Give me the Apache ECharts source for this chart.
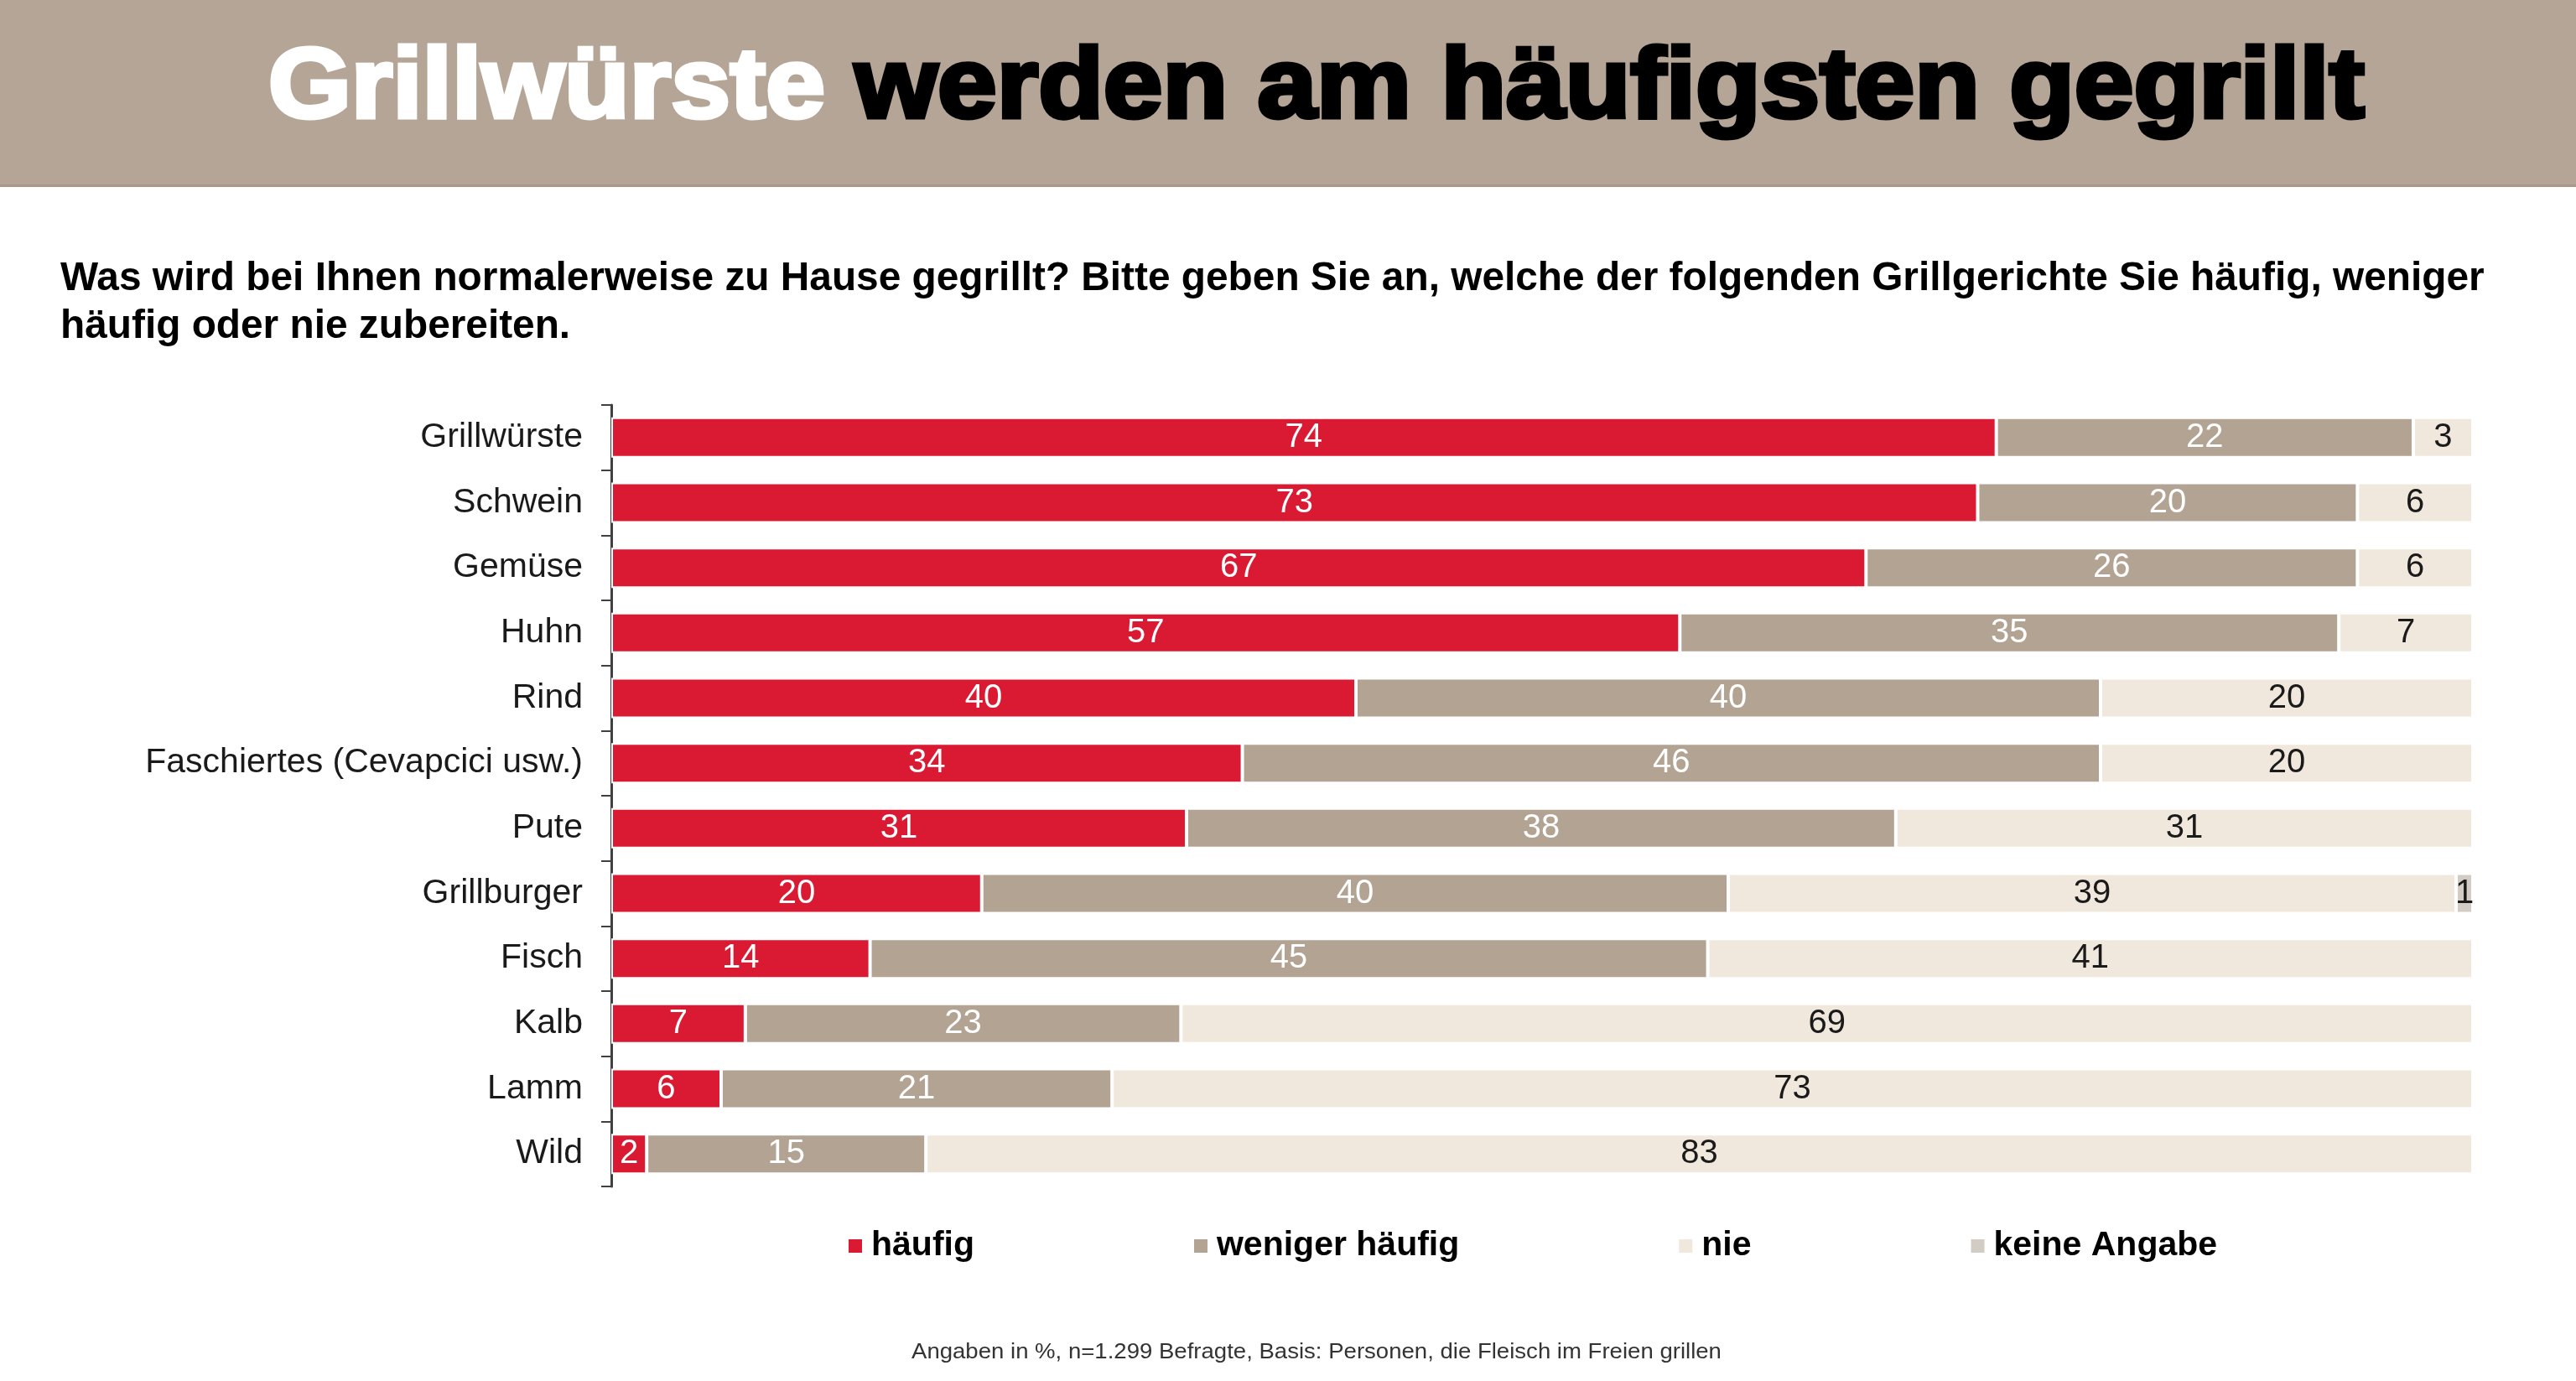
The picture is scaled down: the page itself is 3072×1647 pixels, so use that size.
<!DOCTYPE html>
<html>
<head>
<meta charset="utf-8">
<script src="https://cdn.jsdelivr.net/npm/echarts@6/dist/echarts.min.js"></script>
<style>
html,body{margin:0;padding:0;background:#fff;}
#chart{width:3072px;height:1647px;}
</style>
</head>
<body>
<div id="chart"></div>
<script>
// ---- data ----
const categories = ['Grillwürste','Schwein','Gemüse','Huhn','Rind','Faschiertes (Cevapcici usw.)','Pute','Grillburger','Fisch','Kalb','Lamm','Wild'];
const seriesNames = ['häufig','weniger häufig','nie','keine Angabe'];
const haeufig        = [74.4, 73.4, 67.4, 57.4, 40.0, 33.9, 30.9, 19.9, 13.9, 7.2, 5.9, 1.9];
const wenigerHaeufig = [22.4, 20.4, 26.4, 35.4, 40.0, 46.1, 38.1, 40.1, 45.0, 23.4, 21.0, 15.0];
const nie            = [3.2, 6.2, 6.2, 7.2, 20.0, 20.0, 31.0, 39.1, 41.1, 69.4, 73.1, 83.1];
const keineAngabe    = [null, null, null, null, null, null, null, 0.9, null, null, null, null];

const titleWhite = 'Grillwürste ';
const titleBlack = 'werden am häufigsten gegrillt';
const subtitle = 'Was wird bei Ihnen normalerweise zu Hause gegrillt? Bitte geben Sie an, welche der folgenden Grillgerichte Sie häufig, weniger\nhäufig oder nie zubereiten.';
const footnote = 'Angaben in %, n=1.299 Befragte, Basis: Personen, die Fleisch im Freien grillen';

const colors = ['#DA1A32', '#B3A393', '#F0E8DC', '#D3CCC4'];
const labelColors = ['#ffffff', '#ffffff', '#1a1a1a', '#1a1a1a'];
const FONT = '"Liberation Sans", Arial, sans-serif';

const chart = echarts.init(document.getElementById('chart'), null, {renderer: 'canvas'});

const dataSets = [haeufig, wenigerHaeufig, nie, keineAngabe];
const series = dataSets.map((d, i) => ({
  name: seriesNames[i],
  type: 'bar',
  stack: 'total',
  data: d,
  barWidth: 48,
  itemStyle: {color: colors[i], borderColor: '#ffffff', borderWidth: 2},
  label: {
    show: true,
    position: 'inside',
    color: labelColors[i],
    fontFamily: FONT,
    fontSize: 40,
    formatter: p => (p.value == null ? '' : String(Math.round(p.value)))
  },
  emphasis: {disabled: true},
  animation: false
}));

const option = {
  animation: false,
  backgroundColor: '#ffffff',
  grid: {left: 729, right: 123, top: 483, bottom: 232, containLabel: false},
  xAxis: {
    type: 'value', min: 0, max: 100,
    show: false
  },
  yAxis: {
    type: 'category',
    data: categories,
    inverse: true,
    axisLine: {show: true, lineStyle: {color: '#404040', width: 3}},
    axisTick: {show: true, length: 12, lineStyle: {color: '#404040', width: 2}},
    axisLabel: {fontFamily: FONT, fontSize: 41, color: '#1a1a1a', margin: 34}
  },
  legend: {
    left: 1005,
    top: 1459,
    itemGap: 260,
    itemWidth: 18,
    itemHeight: 18,
    icon: 'rect',
    selectedMode: false,
    textStyle: {fontFamily: FONT, fontSize: 41, fontWeight: 'bold', color: '#000', lineHeight: 44, padding: [0,0,0,5]},
    data: seriesNames
  },
  graphic: [
    {type: 'rect', left: 0, top: 0, shape: {width: 3072, height: 222}, style: {fill: '#B4A596'}, z: 0},
    {type: 'rect', left: 0, top: 220, shape: {width: 3072, height: 3}, style: {fill: '#A89888'}, z: 0},
    {
      type: 'text', x: 320, y: 107, scaleX: 1.077, z: 10,
      style: {
        text: '{a|' + titleWhite + '}{b|' + titleBlack + '}',
        verticalAlign: 'middle',
        fontFamily: FONT, fontSize: 118, fontWeight: 'bold',
        rich: {
          a: {fill: '#ffffff', stroke: '#ffffff', lineWidth: 5, fontFamily: FONT, fontSize: 118, fontWeight: 'bold'},
          b: {fill: '#000000', stroke: '#000000', lineWidth: 5, fontFamily: FONT, fontSize: 118, fontWeight: 'bold'}
        }
      }
    },
    {
      type: 'text', x: 72, y: 304, z: 10,
      style: {
        text: subtitle,
        fill: '#000', fontFamily: FONT, fontSize: 47.8, fontWeight: 'bold',
        lineHeight: 57, verticalAlign: 'top'
      }
    },
    {
      type: 'text', x: 1087, y: 1613, scaleX: 1.06, z: 10,
      style: {
        text: footnote,
        fill: '#333', fontFamily: FONT, fontSize: 26,
        verticalAlign: 'middle'
      }
    }
  ],
  series: series
};
chart.setOption(option);
</script>
</body>
</html>
